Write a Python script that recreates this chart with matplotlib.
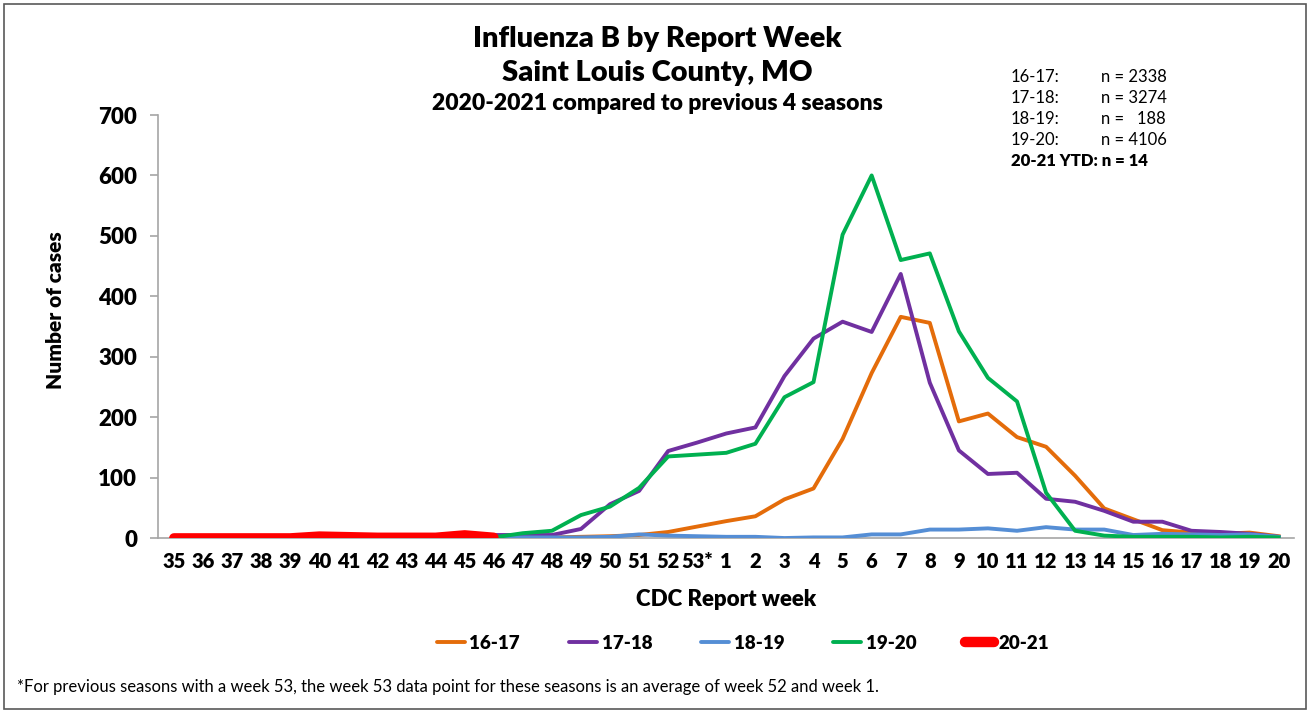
import numpy as np
import matplotlib

matplotlib.use("Agg")
import matplotlib.pyplot as plt
from matplotlib.patches import Rectangle

plt.rcParams["font.family"] = ["Lato", "DejaVu Sans"]

# CDC report weeks, 35 through 52, the week-53 average, then 1 through 20
weeks = ["35", "36", "37", "38", "39", "40", "41", "42", "43", "44", "45", "46",
         "47", "48", "49", "50", "51", "52", "53*",
         "1", "2", "3", "4", "5", "6", "7", "8", "9", "10",
         "11", "12", "13", "14", "15", "16", "17", "18", "19", "20"]

s1617 = [0, 0, 0, 0, 0, 0, 0, 0, 1, 1, 1, 1,
         1, 1, 2, 3, 5, 10, 19,
         28, 36, 64, 82, 164, 273, 366, 356, 193, 206,
         167, 151, 103, 49, 31, 13, 9, 7, 9, 3]
s1718 = [0, 0, 0, 0, 0, 1, 1, 1, 2, 2, 3, 5,
         5, 5, 15, 56, 78, 144, 158,
         173, 183, 268, 330, 358, 341, 437, 257, 145, 106,
         108, 65, 60, 45, 27, 27, 12, 10, 7, 2]
s1819 = [0, 0, 0, 0, 0, 0, 0, 0, 1, 1, 1, 2,
         1, 1, 1, 2, 6, 4, 3,
         2, 2, 0, 1, 1, 6, 6, 14, 14, 16,
         12, 18, 14, 14, 5, 7, 6, 5, 6, 2]
s1920 = [0, 0, 0, 0, 0, 0, 0, 1, 1, 1, 1, 1,
         8, 12, 38, 52, 83, 135, 138,
         141, 156, 233, 258, 502, 600, 460, 471, 342, 265,
         226, 75, 12, 4, 2, 2, 2, 1, 2, 1]
s2021 = [0, 0, 0, 0, 0, 3, 2, 1, 1, 1, 5, 1]

season_n = ["16-17:", "17-18:", "18-19:", "19-20:"]
n_text = ["n = 2338", "n = 3274", "n =   188", "n = 4106"]

C_ORANGE = "#E46C0A"
C_PURPLE = "#7030A0"
C_BLUE = "#558ED5"
C_GREEN = "#00B050"
C_RED = "#FF0000"

BOLD = "heavy"


def main():
    fig = plt.figure(figsize=(13.1, 7.13), dpi=100)
    ax = fig.add_axes([0.1206, 0.2454, 0.867, 0.5933])

    x = np.arange(len(weeks))
    lw = 2.8
    ax.plot(x, s1617, color=C_ORANGE, lw=lw, label="16-17", zorder=2)
    ax.plot(x, s1718, color=C_PURPLE, lw=lw, label="17-18", zorder=3)
    ax.plot(x, s1819, color=C_BLUE, lw=lw, label="18-19", zorder=4)
    ax.plot(x, s1920, color=C_GREEN, lw=lw, label="19-20", zorder=5)
    ax.plot(x[:len(s2021)], s2021, color=C_RED, lw=7, label="20-21",
            solid_capstyle="round", zorder=6)

    ax.set_xlim(-0.55, len(weeks) - 0.48)
    ax.set_ylim(0, 700)
    ax.set_yticks(range(0, 701, 100))
    ax.set_xticks(x)
    ax.set_xticklabels(weeks)

    for side in ("top", "right"):
        ax.spines[side].set_visible(False)
    for side in ("left", "bottom"):
        ax.spines[side].set_color("#A6A6A6")
        ax.spines[side].set_linewidth(1.2)
    ax.tick_params(axis="y", length=6, width=1.2, color="#A6A6A6", pad=9,
                   labelsize=16)
    ax.tick_params(axis="x", length=0, pad=10, labelsize=14.5)
    for lab in ax.get_xticklabels() + ax.get_yticklabels():
        lab.set_fontweight(BOLD)

    ax.set_xlabel("CDC Report week", fontsize=16, fontweight=BOLD, labelpad=13)
    ax.set_ylabel("Number of cases", fontsize=15, fontweight=BOLD)
    ax.yaxis.set_label_coords(-0.082, 0.539)

    fig.text(0.502, 0.945, "Influenza B by Report Week", ha="center", va="center",
             fontsize=21, fontweight=BOLD)
    fig.text(0.502, 0.898, "Saint Louis County, MO", ha="center", va="center",
             fontsize=21, fontweight=BOLD)
    fig.text(0.502, 0.855, "2020-2021 compared to previous 4 seasons", ha="center",
             va="center", fontsize=16.5, fontweight=BOLD)

    # season totals box
    y0 = 0.8924
    dy = 0.0296
    for i, (a, b) in enumerate(zip(season_n, n_text)):
        fig.text(0.7715, y0 - i * dy, a, ha="left", va="center", fontsize=12)
        fig.text(0.8405, y0 - i * dy, b, ha="left", va="center", fontsize=12)
    fig.text(0.7715, y0 - 4 * dy, "20-21 YTD: n = 14", ha="left", va="center",
             fontsize=12, fontweight=BOLD)

    leg = fig.legend(loc="center", bbox_to_anchor=(0.567, 0.098), ncol=5,
                     frameon=False, handlelength=1.5, handletextpad=0.25,
                     columnspacing=2.6, prop={"weight": BOLD, "size": 13.5})
    for line in leg.get_lines():
        line.set_solid_capstyle("round")
    leg.get_lines()[-1].set_linewidth(7.5)

    fig.text(0.013, 0.036,
             "*For previous seasons with a week 53, the week 53 data point for these "
             "seasons is an average of week 52 and week 1.",
             ha="left", va="center", fontsize=12)

    fig.patches.append(Rectangle((0.003, 0.006), 0.994, 0.988, transform=fig.transFigure,
                                 fill=False, edgecolor="#595959", lw=1.2))

    fig.savefig("out.png", dpi=100)


if __name__ == "__main__":
    main()
